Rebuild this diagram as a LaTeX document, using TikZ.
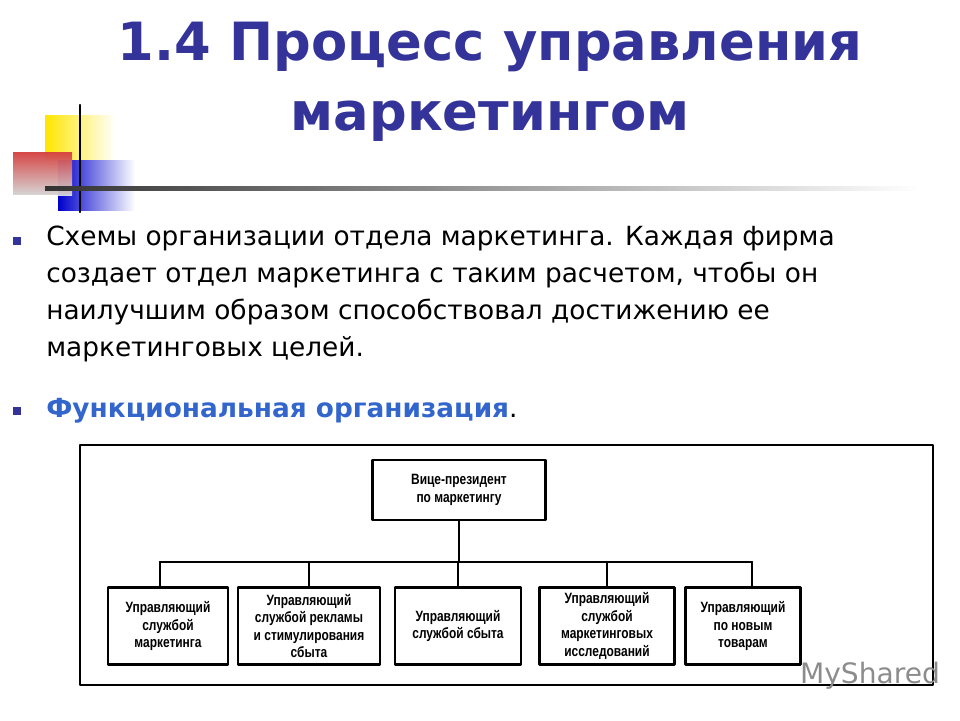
\documentclass[tikz,border=0pt]{standalone}
\usepackage{fontspec}
\setmainfont{DejaVu Sans}
\newfontfamily\boxfont{Liberation Sans}[FakeStretch=0.8]
\usetikzlibrary{positioning}
\definecolor{titleblue}{RGB}{51,51,153}
\definecolor{linkblue}{RGB}{51,102,204}
\tikzset{
  orgbox/.style={draw, very thick, fill=white, align=center, font=\boxfont\bfseries\fontsize{8.5}{10}\selectfont, inner sep=2pt},
  bullet/.style={fill=titleblue, minimum size=5pt, inner sep=0pt},
  wire/.style={very thick}
}
\begin{document}
\begin{tikzpicture}[x=0.02cm, y=-0.02cm, line cap=round, line join=round]
  \useasboundingbox (0,0) rectangle (960,720);
  %--- decoration
    \fill[left color=yellow!80!orange, right color=white] (45,115) rectangle (115,160);
    \fill[left color=blue!80!black, right color=white] (58,160) rectangle (135,210);
    \fill[top color=red!70, bottom color=white, opacity=0.8] (13,152) rectangle (72,195);
    \draw[very thick] (80,105) -- (80,212);
    \shade[left color=black!80, right color=white] (45,186) rectangle (920,190);
  %--- title
    \node[font=\bfseries\fontsize{30}{40}\selectfont, text=titleblue, align=center] (title) at (490,82)
      {1.4 Процесс управления\\маркетингом};
  %--- text
    \node[bullet] (b1) at (17,241) {};
    \node[anchor=north west, align=left, font=\fontsize{15}{21}\selectfont, inner sep=0pt] (txt) at (46,226)
      {Схемы организации отдела маркетинга. Каждая фирма\\
       создает отдел маркетинга с таким расчетом, чтобы он\\
       наилучшим образом способствовал достижению ее\\
       маркетинговых целей.};
    \node[bullet] (b2) at (17,411) {};
    \node[anchor=west, font=\fontsize{15}{21}\selectfont, inner sep=0pt] (func) at (46,411)
      {\textcolor{linkblue}{\bfseries Функциональная организация}.};
  %--- chart
    \draw[very thick] (80,445) rectangle (933,685);
    \node[orgbox, minimum width=173*0.02cm, minimum height=60*0.02cm] (vp) at (459,490)
      {Вице-президент\\по маркетингу};
    \node[orgbox, minimum width=120*0.02cm, minimum height=77*0.02cm] (m1) at (168,626)
      {Управляющий\\службой\\маркетинга};
    \node[orgbox, minimum width=142*0.02cm, minimum height=77*0.02cm] (m2) at (309,626)
      {Управляющий\\службой рекламы\\и стимулирования\\сбыта};
    \node[orgbox, minimum width=126*0.02cm, minimum height=77*0.02cm] (m3) at (458,626)
      {Управляющий\\службой сбыта};
    \node[orgbox, minimum width=135*0.02cm, minimum height=77*0.02cm] (m4) at (607,626)
      {Управляющий\\службой\\маркетинговых\\исследований};
    \node[orgbox, minimum width=115*0.02cm, minimum height=77*0.02cm] (m5) at (743,626)
      {Управляющий\\по новым\\товарам};
    \coordinate (bus) at (459,562);
    \draw[wire] (vp.south) -- (bus);
    \draw[wire] (160,562) -- (752,562);
    \draw[wire] (160,562) -- (160,588);
    \draw[wire] (m2.north) -- (m2.north |- bus);
    \draw[wire] (m3.north) -- (m3.north |- bus);
    \draw[wire] (m4.north) -- (m4.north |- bus);
    \draw[wire] (752,562) -- (752,588);
  %--- watermark
    \node[text=black!45, font=\fontsize{16}{18}\selectfont] (mark) at (870,676) {MyShared};
\end{tikzpicture}
\end{document}
